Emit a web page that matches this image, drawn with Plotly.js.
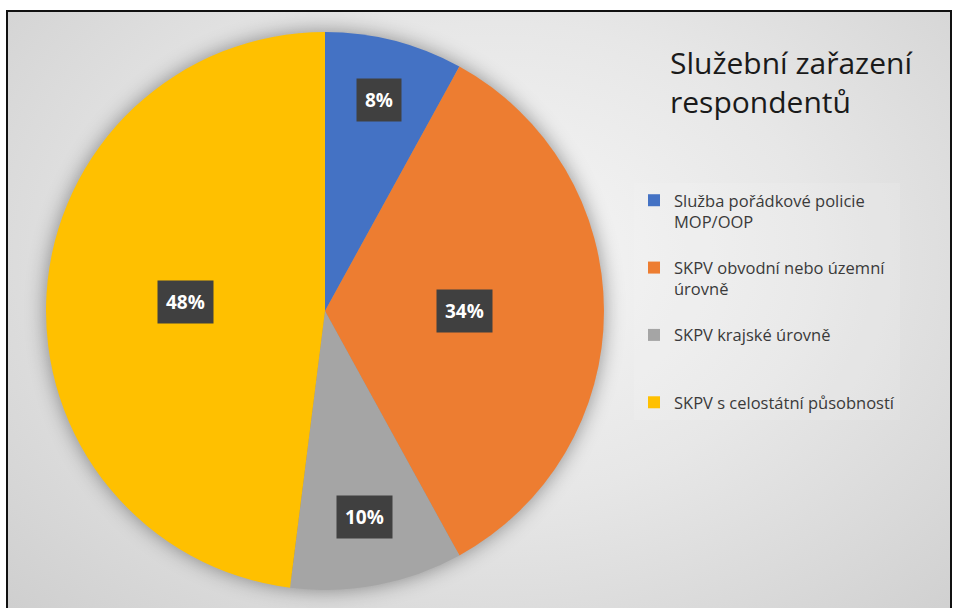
<!DOCTYPE html>
<html>
<head>
<meta charset="utf-8">
<script src="https://cdn.plot.ly/plotly-3.0.1.min.js"></script>
<style>
  html, body { margin: 0; padding: 0; background: #ffffff; }
  #wrap { position: relative; width: 955px; height: 608px; overflow: hidden; }
  #frame { position: absolute; left: 6px; top: 10px; width: 946px; height: 620px;
           border: 2px solid #111; box-sizing: border-box;
           background: radial-gradient(ellipse 75% 85% at 52% 40%, #f6f6f6 0%, #e7e7e7 45%, #cdcdcd 100%); }
  #chart { position: absolute; left: 0; top: 0; width: 955px; height: 608px; }
  .pielayer { filter: drop-shadow(0px 0px 10px rgba(0,0,0,0.4)); }
</style>
</head>
<body>
<div id="wrap">
  <div id="frame"></div>
  <div id="chart"></div>
</div>
<script>
// ---- data ----
const categories = [
  "Služba pořádkové policie MOP/OOP",
  "SKPV obvodní nebo územní úrovně",
  "SKPV krajské úrovně",
  "SKPV s celostátní působností"
];
const legendLabels = [
  "Služba pořádkové policie<br>MOP/OOP<br> ",
  "SKPV obvodní nebo územní<br>úrovně<br> ",
  "SKPV krajské úrovně<br> <br> ",
  "SKPV s celostátní působností"
];
const shares = [8, 34, 10, 48];
const chartTitle = "Služební zařazení<br>respondentů";

// ---- style / geometry ----
const colors = ["#4472C4", "#ED7D31", "#A5A5A5", "#FFC000"];
const W = 955, H = 608;
const cxPx = 325, cyPx = 311, rPx = 279;
const labelRadius = [0.78, 0.5, 0.75, 0.5];

const domX = [(cxPx - rPx) / W, (cxPx + rPx) / W];
const domY = [(H - cyPx - rPx) / H, (H - cyPx + rPx) / H];

// label positions derived from the data (mid-angle of each slice)
const total = shares.reduce((a, b) => a + b, 0);
let cum = 0;
const annotations = shares.map((v, i) => {
  const mid = (cum + v / 2) / total * 2 * Math.PI;
  cum += v;
  const r = rPx * labelRadius[i];
  const px = cxPx + r * Math.sin(mid);
  const py = cyPx - r * Math.cos(mid);
  return {
    x: px / W, y: 1 - py / H, xref: "paper", yref: "paper",
    text: "<b>" + Math.round(v / total * 100) + "%</b>",
    showarrow: false,
    font: { family: "Open Sans, Arial, sans-serif", size: 19, color: "#ffffff" },
    bgcolor: "#404040", borderpad: 8, xanchor: "center", yanchor: "middle"
  };
});

const trace = {
  type: "pie",
  labels: legendLabels,
  values: shares,
  customdata: categories,
  hovertemplate: "%{customdata}: %{percent}<extra></extra>",
  sort: false,
  direction: "clockwise",
  rotation: 0,
  textinfo: "none",
  marker: { colors: colors, line: { width: 0 } },
  domain: { x: domX, y: domY }
};

const layout = {
  width: W, height: H,
  margin: { l: 0, r: 0, t: 0, b: 0 },
  paper_bgcolor: "rgba(0,0,0,0)",
  plot_bgcolor: "rgba(0,0,0,0)",
  showlegend: true,
  title: {
    text: chartTitle,
    x: 670 / W, xanchor: "left", xref: "container",
    y: 1 - 74 / H, yanchor: "top", yref: "container",
    font: { family: "Open Sans, Arial, sans-serif", size: 30, color: "#1a1a1a" }
  },
  legend: {
    x: 634 / W, xanchor: "left",
    y: 1 - 183 / H, yanchor: "top",
    valign: "top",
    bgcolor: "rgba(255,255,255,0.10)",
    font: { family: "Open Sans, Arial, sans-serif", size: 16.5, color: "#3a3a3a" }
  },
  annotations: annotations
};

Plotly.newPlot("chart", [trace], layout, { displayModeBar: false, staticPlot: true });
</script>
</body>
</html>
